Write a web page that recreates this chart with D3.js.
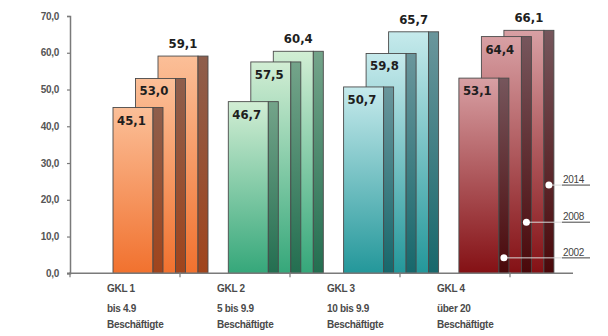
<!DOCTYPE html>
<html><head><meta charset="utf-8">
<script src="https://cdn.jsdelivr.net/npm/d3@7"></script>
<style>body{margin:0;background:#fff}svg{display:block}</style>
</head><body>
<script>
// ---- data ----
const categories = ["GKL 1", "GKL 2", "GKL 3", "GKL 4"];
const subLine1 = ["bis 4.9", "5 bis 9.9", "10 bis 9.9", "über 20"];
const subLine2 = ["Beschäftigte", "Beschäftigte", "Beschäftigte", "Beschäftigte"];
const years = ["2002", "2008", "2014"];
const v2002 = [45.1, 46.7, 50.7, 53.1];
const v2008 = [53.0, 57.5, 59.8, 64.4];
const v2014 = [59.1, 60.4, 65.7, 66.1];
const yTicks = [0, 10, 20, 30, 40, 50, 60, 70];
const legendLevels = [4.2, 13.9, 24.0]; // 2002, 2008, 2014 marker heights

const series = [v2002, v2008, v2014];
const palettes = [
  {top:"#fbbf98", bot:"#f1712e", sTop:"#8e5e4c", sBot:"#a0441c"},
  {top:"#d2eed4", bot:"#35a77a", sTop:"#74a48a", sBot:"#236e50"},
  {top:"#c6eaec", bot:"#23979a", sTop:"#6a969c", sBot:"#17676b"},
  {top:"#d8a0a4", bot:"#841014", sTop:"#76565c", sBot:"#4a080a"}
];

const W = 608, H = 336;
const svg = d3.select("body").append("svg").attr("width", W).attr("height", H);
const defs = svg.append("defs");
palettes.forEach((p, i) => {
  const g1 = defs.append("linearGradient").attr("id", "f" + i).attr("x1", 0).attr("y1", 0).attr("x2", 0).attr("y2", 1);
  g1.append("stop").attr("offset", "0%").attr("stop-color", p.top);
  g1.append("stop").attr("offset", "100%").attr("stop-color", p.bot);
  const g2 = defs.append("linearGradient").attr("id", "s" + i).attr("x1", 0).attr("y1", 0).attr("x2", 0).attr("y2", 1);
  g2.append("stop").attr("offset", "0%").attr("stop-color", p.sTop);
  g2.append("stop").attr("offset", "100%").attr("stop-color", p.sBot);
});

const y = d3.scaleLinear().domain([0, 70]).range([273.3, 16]);
// axis bands (ticks / labels)
const xAxisBand = d3.scaleBand().domain(categories).range([70, 510]);
// bar groups
const xBars = d3.scaleBand().domain(categories).range([113, 574.2]);
const off = d3.scalePoint().domain(years).range([0, 45]);
const frontW = 40, sideW = 10;

// y axis
const yAxis = d3.axisLeft(y).tickValues(yTicks).tickSize(3).tickPadding(8)
  .tickFormat(d => d3.format(".1f")(d).replace(".", ","));
const ya = svg.append("g").attr("transform", "translate(70,0)").call(yAxis);
ya.select(".domain").attr("stroke", "#7a7a7a").attr("stroke-width", 1.5);
ya.selectAll(".tick line").attr("stroke", "#7a7a7a").attr("stroke-width", 1.2);
ya.selectAll("text").attr("fill", "#555").attr("font-family", "Liberation Sans, Arial, sans-serif")
  .attr("font-size", 10).attr("font-weight", "bold").attr("letter-spacing", "-0.3");

// bars (2014 at the back, 2002 in front)
categories.forEach((c, ci) => {
  const g = svg.append("g");
  [2, 1, 0].forEach(si => {
    const yr = years[si];
    const v = series[si][ci];
    const x0 = xBars(c) + off(yr);
    const top = y(v), h = y(0) - y(v);
    g.append("rect").attr("x", x0).attr("y", top).attr("width", frontW).attr("height", h)
      .attr("fill", `url(#f${ci})`).attr("stroke", "#4a4a4a").attr("stroke-width", 0.9);
    g.append("rect").attr("x", x0 + frontW).attr("y", top).attr("width", sideW).attr("height", h)
      .attr("fill", `url(#s${ci})`).attr("stroke", "#4a4a4a").attr("stroke-width", 0.9);
    const lbl = d3.format(".1f")(v).replace(".", ",");
    const t = g.append("text").text(lbl).attr("fill", "#1e1e1e")
      .attr("font-family", "DejaVu Sans Condensed, DejaVu Sans, sans-serif")
      .attr("font-weight", "bold").attr("font-size", 13);
    if (si < 2) t.attr("x", x0 + 4).attr("y", top + 17);
    else t.attr("x", x0 + (frontW + sideW) / 2).attr("y", top - 8).attr("text-anchor", "middle");
  });
});

// x axis
const xa = svg.append("g");
xa.append("line").attr("x1", 67).attr("x2", 573).attr("y1", y(0)).attr("y2", y(0))
  .attr("stroke", "#7a7a7a").attr("stroke-width", 1.5);
const tickXs = categories.map(c => xAxisBand(c)).concat([xAxisBand.range()[1]]);
xa.selectAll("line.t").data(tickXs).join("line").attr("class", "t")
  .attr("x1", d => d).attr("x2", d => d).attr("y1", y(0) - 1).attr("y2", y(0) + 4)
  .attr("stroke", "#7a7a7a").attr("stroke-width", 1.2);
const lab = svg.append("g").attr("font-family", "Liberation Sans, Arial, sans-serif")
  .attr("font-size", 10).attr("font-weight", "bold").attr("fill", "#4a4a4a");
categories.forEach((c, i) => {
  const lx = xAxisBand(c) + 37;
  lab.append("text").attr("x", lx).attr("y", 292).text(c).attr("letter-spacing", "-0.3");
  lab.append("text").attr("x", lx).attr("y", 312).text(subLine1[i]).attr("letter-spacing", "-0.3");
  lab.append("text").attr("x", lx).attr("y", 328).text(subLine2[i]).attr("letter-spacing", "-0.3");
});

// legend markers in last group
const leg = svg.append("g");
years.forEach((yr, si) => {
  const c = categories[categories.length - 1];
  const cx = xBars(c) + off(yr) + frontW + sideW / 2;
  const cy = y(legendLevels[si]);
  leg.append("line").attr("x1", cx).attr("x2", 590).attr("y1", cy).attr("y2", cy)
    .attr("stroke", "#d8d8d8").attr("stroke-width", 1);
  leg.append("line").attr("x1", 562).attr("x2", 590).attr("y1", cy).attr("y2", cy)
    .attr("stroke", "#555").attr("stroke-width", 1);
  leg.append("circle").attr("cx", cx).attr("cy", cy).attr("r", 3.5).attr("fill", "#fff");
  leg.append("text").attr("x", 563).attr("y", cy - 2).text(yr)
    .attr("font-family", "Liberation Sans, Arial, sans-serif").attr("font-size", 10)
    .attr("fill", "#444").attr("letter-spacing", "-0.3");
});
</script>
</body></html>
